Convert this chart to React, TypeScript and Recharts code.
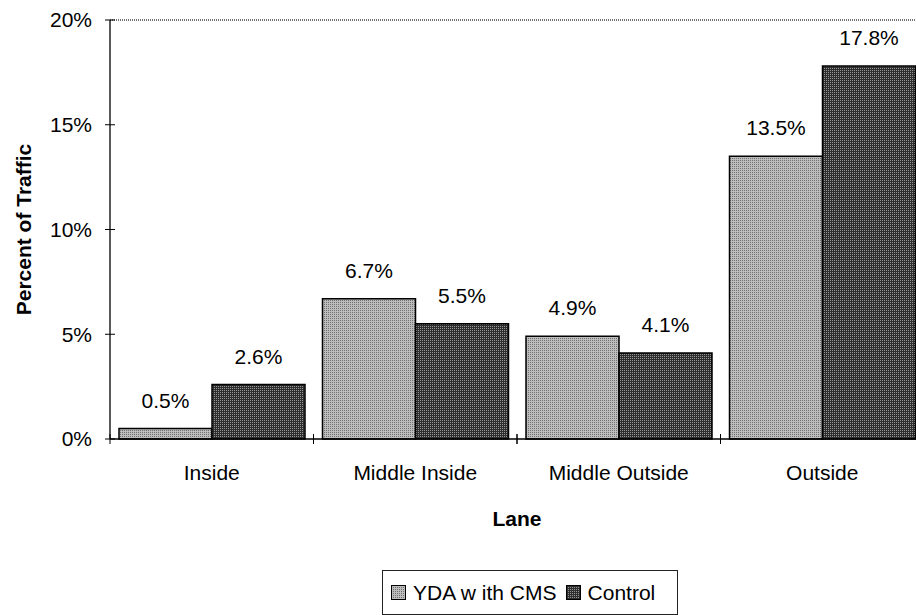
import React from 'react';
import { BarChart, Bar, XAxis, YAxis, LabelList, Legend, ReferenceLine, Label } from 'recharts';

const lanes = ['Inside', 'Middle Inside', 'Middle Outside', 'Outside'];
const ydaWithCms = [0.5, 6.7, 4.9, 13.5];
const control = [2.6, 5.5, 4.1, 17.8];
const yTicks = [0, 5, 10, 15, 20];
const seriesNames = ['YDA w ith CMS', 'Control'];

const data = lanes.map((lane, i) => ({ lane, yda: ydaWithCms[i], control: control[i] }));

const FONT = '"Liberation Sans", Arial, Helvetica, sans-serif';
const FS = 21;
const X_TICK_MARGIN = 26;

const pct = (v: any) => `${v}%`;

const LaneTick = (props: any) => {
  const { x, y, payload } = props;
  const half = payload && typeof payload.offset === 'number' ? payload.offset : 0;
  const axisY = y - X_TICK_MARGIN;
  return (
    <g>
      <line x1={x - half} x2={x - half} y1={axisY - 5} y2={axisY + 5} stroke="#000" strokeWidth={1} />
      <line x1={x + half} x2={x + half} y1={axisY - 5} y2={axisY + 5} stroke="#000" strokeWidth={1} />
      <text x={x} y={y} dy="0.71em" textAnchor="middle" fill="#000" fontSize={FS} fontFamily={FONT}>
        {payload.value}
      </text>
    </g>
  );
};

const renderLegend = (props: any) => {
  const payload = [...(props.payload || [])].sort(
    (a: any, b: any) => seriesNames.indexOf(a.value) - seriesNames.indexOf(b.value)
  );
  return (
    <div
      style={{
        boxSizing: 'border-box',
        width: 296,
        height: 45,
        border: '1px solid #222',
        display: 'flex',
        alignItems: 'center',
        paddingLeft: 8,
        fontFamily: FONT,
        fontSize: FS,
        color: '#000',
        whiteSpace: 'nowrap',
      }}
    >
      {payload.map((p: any, i: number) => (
        <div key={i} style={{ display: 'flex', alignItems: 'center', marginRight: 9 }}>
          <svg width={15} height={15} style={{ marginRight: 7 }}>
            <rect x={0.5} y={0.5} width={14} height={14} fill={p.color} stroke="#000" />
          </svg>
          <span>{p.value}</span>
        </div>
      ))}
    </div>
  );
};

export default function App() {
  return (
    <div style={{ position: 'absolute', left: 0, top: 0, width: 916, height: 615, overflow: 'hidden', background: '#fff' }}>
      <BarChart
        width={926}
        height={615}
        data={data}
        margin={{ top: 20, right: 2, left: 0, bottom: 175 }}
        barCategoryGap={9}
        barGap={0}
        style={{ fontFamily: FONT }}
      >
        <defs>
          <pattern id="ydaPat" width="2" height="2" patternUnits="userSpaceOnUse">
            <rect x="0" y="0" width="2" height="2" fill="#bdbdbd" />
            <rect x="0" y="0" width="1" height="1" fill="#707070" />
          </pattern>
          <pattern id="ctlPat" width="2" height="2" patternUnits="userSpaceOnUse">
            <rect x="0" y="0" width="2" height="2" fill="#2e2e2e" />
            <rect x="0" y="0" width="1" height="1" fill="#969696" />
          </pattern>
        </defs>
        <XAxis
          dataKey="lane"
          height={1}
          tickSize={0}
          tickMargin={X_TICK_MARGIN}
          tickLine={false}
          axisLine={{ stroke: '#000', strokeWidth: 1.5 }}
          tick={<LaneTick />}
          interval={0}
        >
          <Label
            value="Lane"
            position="bottom"
            offset={71}
            style={{ fill: '#000', fontSize: FS, fontWeight: 'bold', fontFamily: FONT }}
          />
        </XAxis>
        <YAxis
          domain={[0, 20]}
          ticks={yTicks}
          width={110}
          tickFormatter={pct}
          tickSize={10}
          tickMargin={8}
          tickLine={{ stroke: '#000', strokeWidth: 1, transform: 'translate(5,0)' }}
          axisLine={{ stroke: '#222', strokeWidth: 1.5 }}
          tick={{ fill: '#000', fontSize: FS, fontFamily: FONT }}
          interval={0}
        >
          <Label
            value="Percent of Traffic"
            position="insideLeft"
            angle={-90}
            offset={24}
            style={{ fill: '#000', fontSize: FS, fontWeight: 'bold', fontFamily: FONT, textAnchor: 'middle' }}
          />
        </YAxis>
        <ReferenceLine y={20} stroke="#444" strokeWidth={1.5} strokeDasharray="1 1" />
        <Legend
          layout="horizontal"
          verticalAlign="middle"
          align="center"
          wrapperStyle={{ left: 382, top: 570, width: 296, height: 45 }}
          content={renderLegend}
        />
        <Bar dataKey="yda" name={seriesNames[0]} fill="url(#ydaPat)" stroke="#000" strokeWidth={1.5} isAnimationActive={false}>
          <LabelList dataKey="yda" position="top" offset={21} formatter={pct} style={{ fill: '#000', fontSize: FS, fontFamily: FONT }} />
        </Bar>
        <Bar dataKey="control" name={seriesNames[1]} fill="url(#ctlPat)" stroke="#000" strokeWidth={1.5} isAnimationActive={false}>
          <LabelList dataKey="control" position="top" offset={21} formatter={pct} style={{ fill: '#000', fontSize: FS, fontFamily: FONT }} />
        </Bar>
      </BarChart>
    </div>
  );
}
